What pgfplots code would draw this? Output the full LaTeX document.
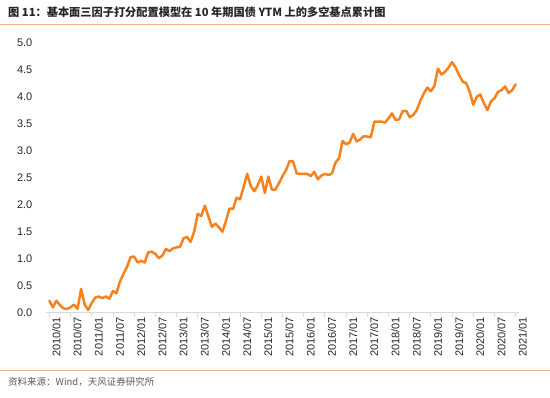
\documentclass[border=0pt]{standalone}
\usepackage{pgfplots}
\pgfplotsset{compat=1.18}
\usepackage{fontspec}
\setmainfont{Liberation Sans}
\newfontfamily\cjk{Noto Sans CJK SC}
\definecolor{lineor}{HTML}{F5821F}
\definecolor{sepor}{HTML}{F4B183}
\definecolor{axgray}{HTML}{D9D9D9}
\definecolor{txt}{HTML}{262626}
\begin{document}
\begin{tikzpicture}
\path[use as bounding box] (0,0) rectangle (550bp,398bp);
\node[anchor=west, inner sep=0pt, text=txt] at (8bp,386bp) {\cjk\bfseries\fontsize{11.2bp}{13bp}\selectfont 图 11：基本面三因子打分配置模型在 10 年期国债 YTM 上的多空基点累计图};
\draw[sepor, line width=1bp] (0,373bp) -- (550bp,373bp);
\draw[sepor, line width=1bp] (0,27bp) -- (550bp,27bp);
\node[anchor=west, inner sep=0pt, text=black!65] at (8bp,16.3bp) {\cjk\fontsize{9.5bp}{11bp}\selectfont 资料来源：Wind，天风证券研究所};
\begin{axis}[
  at={(45.8bp,85.3bp)}, anchor=south west,
  scale only axis, width=473.4bp, height=270bp,
  xmin=-1, xmax=133, ymin=0, ymax=5,
  clip=false,
  axis x line*=bottom, axis y line*=left,
  y axis line style={draw=none},
  x axis line style={axgray, line width=1bp},
  xtick={0,6,...,132},
  xticklabels={2010/01,2010/07,2011/01,2011/07,2012/01,2012/07,2013/01,2013/07,2014/01,2014/07,2015/01,2015/07,2016/01,2016/07,2017/01,2017/07,2018/01,2018/07,2019/01,2019/07,2020/01,2020/07,2021/01},
  xtick style={axgray, line width=0.8bp},
  tick align=outside,
  x tick label style={rotate=90, anchor=east, inner sep=0pt, yshift=-7bp, font=\fontsize{11bp}{13bp}\selectfont, text=txt},
  major x tick style={axgray},
  x tick style={/pgfplots/major tick length=4bp},
  ytick={0,0.5,...,5},
  yticklabels={0.0,0.5,1.0,1.5,2.0,2.5,3.0,3.5,4.0,4.5,5.0},
  ytick style={draw=none},
  y tick label style={anchor=east, inner sep=0pt, xshift=-9bp, font=\fontsize{11bp}{13bp}\selectfont, text=txt},
]
\addplot[lineor, line width=2.5bp, line join=round, line cap=round] coordinates {
(0,0.22)(1,0.10)(2,0.22)(3,0.14)(4,0.08)(5,0.07)(6,0.10)(7,0.15)(8,0.07)(9,0.44)
(10,0.15)(11,0.05)(12,0.18)(13,0.28)(14,0.30)(15,0.27)(16,0.30)(17,0.26)(18,0.40)(19,0.36)
(20,0.58)(21,0.72)(22,0.85)(23,1.03)(24,1.04)(25,0.93)(26,0.96)(27,0.93)(28,1.12)(29,1.13)
(30,1.09)(31,1.01)(32,1.06)(33,1.18)(34,1.14)(35,1.19)(36,1.21)(37,1.22)(38,1.38)(39,1.40)
(40,1.31)(41,1.50)(42,1.83)(43,1.79)(44,1.98)(45,1.79)(46,1.59)(47,1.65)(48,1.58)(49,1.50)
(50,1.70)(51,1.93)(52,1.92)(53,2.13)(54,2.10)(55,2.33)(56,2.57)(57,2.35)(58,2.25)(59,2.36)
(60,2.52)(61,2.22)(62,2.52)(63,2.28)(64,2.28)(65,2.40)(66,2.53)(67,2.64)(68,2.81)(69,2.80)
(70,2.58)(71,2.57)(72,2.57)(73,2.57)(74,2.53)(75,2.61)(76,2.47)(77,2.54)(78,2.57)(79,2.55)
(80,2.58)(81,2.78)(82,2.86)(83,3.18)(84,3.12)(85,3.15)(86,3.31)(87,3.17)(88,3.21)(89,3.27)
(90,3.26)(91,3.25)(92,3.54)(93,3.54)(94,3.54)(95,3.52)(96,3.60)(97,3.69)(98,3.57)(99,3.58)
(100,3.73)(101,3.74)(102,3.62)(103,3.66)(104,3.75)(105,3.92)(106,4.06)(107,4.17)(108,4.10)(109,4.20)
(110,4.52)(111,4.41)(112,4.46)(113,4.54)(114,4.64)(115,4.54)(116,4.40)(117,4.28)(118,4.25)(119,4.09)
(120,3.85)(121,4.00)(122,4.04)(123,3.88)(124,3.75)(125,3.91)(126,3.97)(127,4.09)(128,4.12)(129,4.19)
(130,4.07)(131,4.12)(132,4.23)
};
\end{axis}
\end{tikzpicture}
\end{document}
